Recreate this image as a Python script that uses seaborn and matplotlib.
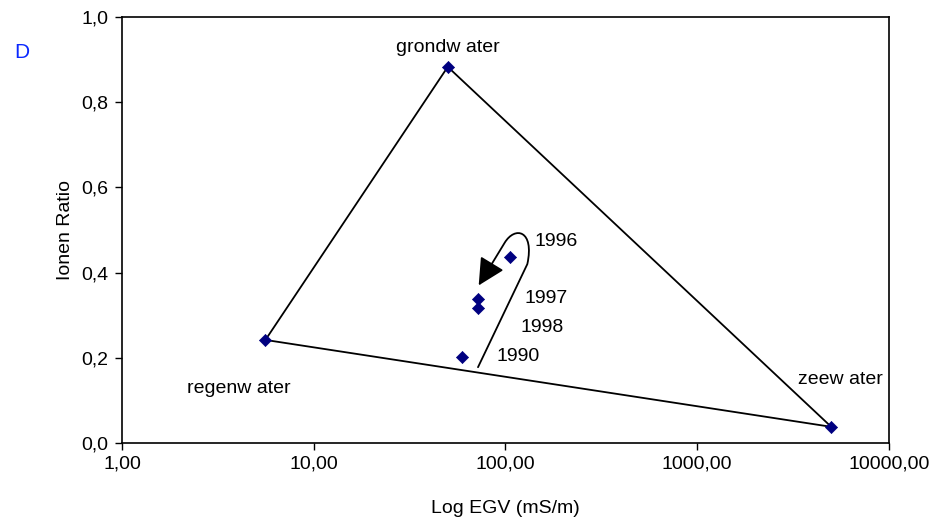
import numpy as np
import pandas as pd
import matplotlib
matplotlib.use("Agg")
import matplotlib.pyplot as plt
from matplotlib.path import Path
from matplotlib.patches import FancyArrowPatch
import seaborn as sns

# ---- data ----
end_labels = ["regenw ater", "grondw ater", "zeew ater"]
end_egv = [5.6, 50.0, 5000.0]
end_ratio = [0.242, 0.883, 0.038]

year_labels = ["1996", "1997", "1998", "1990"]
year_egv = [105.0, 72.0, 72.0, 59.0]
year_ratio = [0.437, 0.338, 0.318, 0.202]

x_ticks = [1, 10, 100, 1000, 10000]
x_tick_labels = ["1,00", "10,00", "100,00", "1000,00", "10000,00"]
y_ticks = [0.0, 0.2, 0.4, 0.6, 0.8, 1.0]
y_tick_labels = ["0,0", "0,2", "0,4", "0,6", "0,8", "1,0"]

# ---- style ----
sns.set_style("ticks")
plt.rcParams["font.family"] = ["Liberation Sans", "DejaVu Sans"]
plt.rcParams["text.color"] = "black"
plt.rcParams["axes.labelcolor"] = "black"
FS = 14

fig = plt.figure(figsize=(9.34, 5.22), dpi=100)
ax = fig.add_axes([0.1306, 0.1513, 0.9518 - 0.1306, 0.9674 - 0.1513])

# triangle (closed)
tri = pd.DataFrame({
    "egv": end_egv + [end_egv[0]],
    "ratio": end_ratio + [end_ratio[0]],
})
sns.lineplot(data=tri, x="egv", y="ratio", sort=False, estimator=None,
             color="black", linewidth=1.3, ax=ax)

pts = pd.DataFrame({"egv": end_egv + year_egv, "ratio": end_ratio + year_ratio})
sns.scatterplot(data=pts, x="egv", y="ratio", marker="D", s=38,
                color="#000080", edgecolor="#000080", linewidth=0.5, ax=ax, zorder=5)

ax.set_xscale("log")
ax.set_xlim(1, 10000)
ax.set_ylim(0, 1.0)
ax.set_xticks(x_ticks)
ax.set_xticklabels(x_tick_labels, fontsize=FS)
ax.xaxis.set_minor_locator(matplotlib.ticker.NullLocator())
ax.set_yticks(y_ticks)
ax.set_yticklabels(y_tick_labels, fontsize=FS)
ax.tick_params(axis="both", direction="out", length=5, width=1, color="black",
               labelcolor="black")
ax.tick_params(axis="x", pad=4)
ax.tick_params(axis="y", pad=5)
for s in ax.spines.values():
    s.set_color("black")
    s.set_linewidth(1.2)

ax.set_xlabel("Log EGV (mS/m)", fontsize=FS, labelpad=20)
ax.set_ylabel("Ionen Ratio", fontsize=FS, labelpad=5)

# end-member labels
ax.text(end_egv[1], end_ratio[1] + 0.025, end_labels[1], ha="center", va="bottom", fontsize=FS)
ax.text(2.18, 0.127, end_labels[0], ha="left", va="center", fontsize=FS)
ax.text(3350, 0.148, end_labels[2], ha="left", va="center", fontsize=FS)

# year labels
year_text_pos = [(142, 0.474), (126, 0.340), (120, 0.272), (90, 0.202)]
for lab, (tx, ty) in zip(year_labels, year_text_pos):
    ax.text(tx, ty, lab, ha="left", va="center", fontsize=FS)

# curved arrow (hairpin)
verts = [(71.9, 0.178), (130, 0.42),
         (142, 0.50), (112, 0.51), (99, 0.47),
         (72.5, 0.37)]
codes = [Path.MOVETO, Path.LINETO, Path.CURVE4, Path.CURVE4, Path.CURVE4, Path.LINETO]
arrow = FancyArrowPatch(path=Path(verts, codes), arrowstyle="-|>,head_length=0.75,head_width=0.38",
                        mutation_scale=22, color="black", linewidth=1.3,
                        transform=ax.transData)
ax.add_patch(arrow)

fig.text(14 / 934, 1 - 52 / 522, "D", color="#0a28ff", fontsize=15, ha="left", va="center")

fig.savefig("out.png", dpi=100)
